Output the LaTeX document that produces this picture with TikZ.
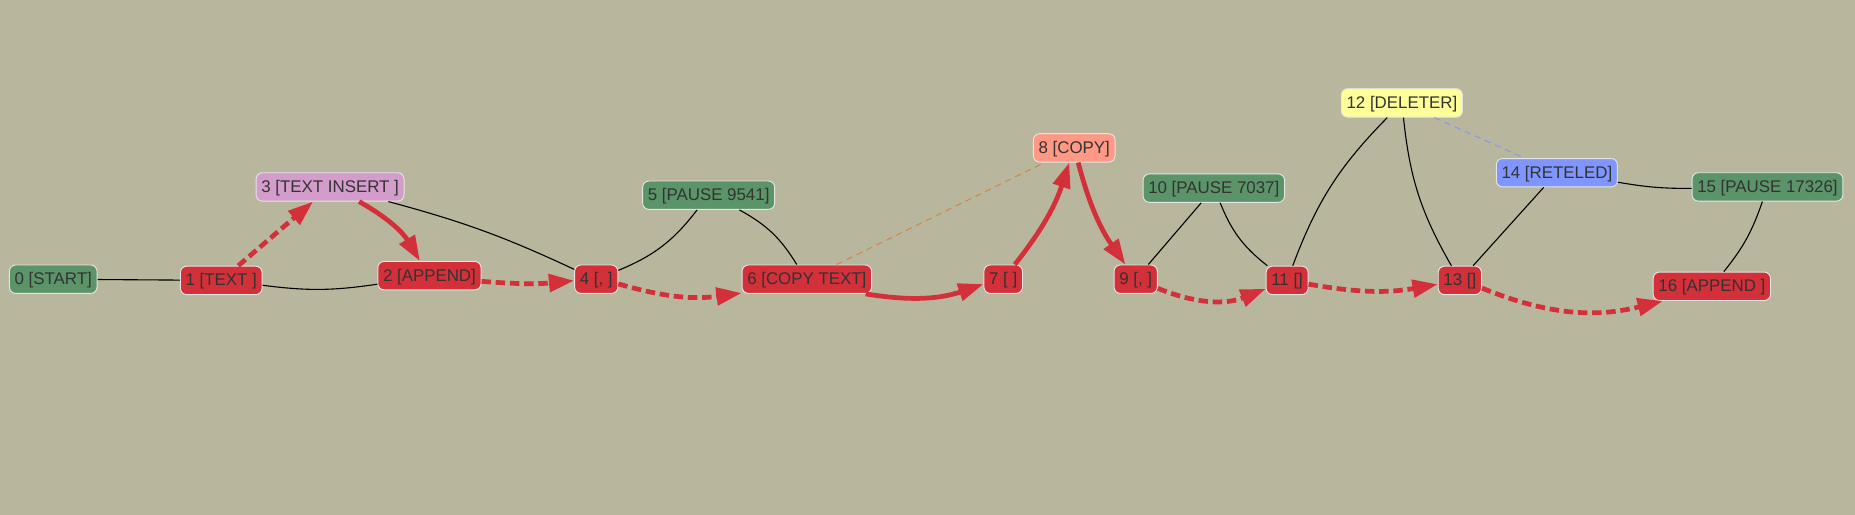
\documentclass[tikz,border=0pt]{standalone}
\usepackage{fontspec}
\setmainfont{Liberation Sans}
\usetikzlibrary{arrows.meta}
\definecolor{bg}{HTML}{B8B69C}
\definecolor{editred}{HTML}{D3303A}
\definecolor{pausegreen}{HTML}{5A9468}
\definecolor{insertpink}{HTML}{D39CCB}
\definecolor{copysalmon}{HTML}{FF9985}
\definecolor{delyellow}{HTML}{FFFF99}
\definecolor{retblue}{HTML}{7F95FF}
\definecolor{copyline}{HTML}{DC7F4A}
\definecolor{txt}{HTML}{333333}
\begin{document}
\begin{tikzpicture}[x=0.75pt,y=0.75pt,
  every node/.style={draw=white!90!black, line width=0.6pt, rounded corners=4pt,
    text=txt, font=\fontsize{10.7}{12}\selectfont, inner xsep=3.3pt, inner ysep=0pt,
    minimum height=18pt, text height=8.8pt, text depth=1.7pt},
  edit/.style={fill=editred}, pause/.style={fill=pausegreen},
  tie/.style={black, line width=0.7pt},
  flow/.style={editred, line width=3pt, -{Triangle[length=16pt,width=11pt]}},
  gap/.style={flow, dash pattern=on 6pt off 3pt}]
      \fill[bg] (0,0) rectangle (1568,-435.3);

      \node[pause] (0) at (45,-236) {0 [START]};
      \node[edit] (1) at (187,-237) {1 [TEXT ]};
      \node[edit] (2) at (363,-233) {2 [APPEND]};
      \node[fill=insertpink] (3) at (279,-158) {3 [TEXT INSERT ]};
      \node[edit] (4) at (504,-236) {4 [, ]};
      \node[pause] (5) at (599,-165) {5 [PAUSE 9541]};
      \node[edit] (6) at (682,-236) {6 [COPY TEXT]};
      \node[edit] (7) at (848,-236) {7 [ ]};
      \node[fill=copysalmon] (8) at (908,-125) {8 [COPY]};
      \node[edit] (9) at (960,-236) {9 [, ]};
      \node[pause] (10) at (1026,-159) {10 [PAUSE 7037]};
      \node[edit] (11) at (1088,-237) {11 []};
      \node[fill=delyellow] (12) at (1185,-87) {12 [DELETER]};
      \node[edit] (13) at (1234,-237) {13 []};
      \node[fill=retblue] (14) at (1316,-146) {14 [RETELED]};
      \node[pause] (15) at (1494,-158) {15 [PAUSE 17326]};
      \node[edit] (16) at (1447,-242) {16 [APPEND ]};

      % links
      \draw[tie] (0)--(1);
      \draw[tie] (1) to[bend right=8] (2);
      \draw[tie] (3) to[bend left=5] (4);
      \draw[tie] (4) to[bend right=15] (5);
      \draw[tie] (5) to[bend left=15] (6);
      \draw[copyline, line width=0.6pt, dash pattern=on 4pt off 3pt] (6)--(8);
      \draw[tie] (9)--(10);
      \draw[tie] (10) to[bend right=15] (11);
      \draw[tie] (11) to[bend left=12] (12);
      \draw[tie] (12) to[bend right=12] (13);
      \draw[retblue, line width=0.6pt, dash pattern=on 4pt off 3pt] (12)--(14);
      \draw[tie] (13)--(14);
      \draw[tie] (14) to[bend right=5] (15);
      \draw[tie] (15) to[bend left=10] (16);

      % steps
      \draw[gap] (1)--(3);
      \draw[flow] (3) to[bend left=15] (2);
      \draw[gap] (2) to[bend right=5] (4);
      \draw[gap] (4) to[bend right=12] (6);
      \draw[flow] (6) to[bend right=14] (7);
      \draw[flow] (7) to[bend right=10] (8);
      \draw[flow] (8) to[bend right=10] (9);
      \draw[gap] (9) to[bend right=22] (11);
      \draw[gap] (11) to[bend right=10] (13);
      \draw[gap] (13) to[bend right=18] (16);
\end{tikzpicture}
\end{document}
